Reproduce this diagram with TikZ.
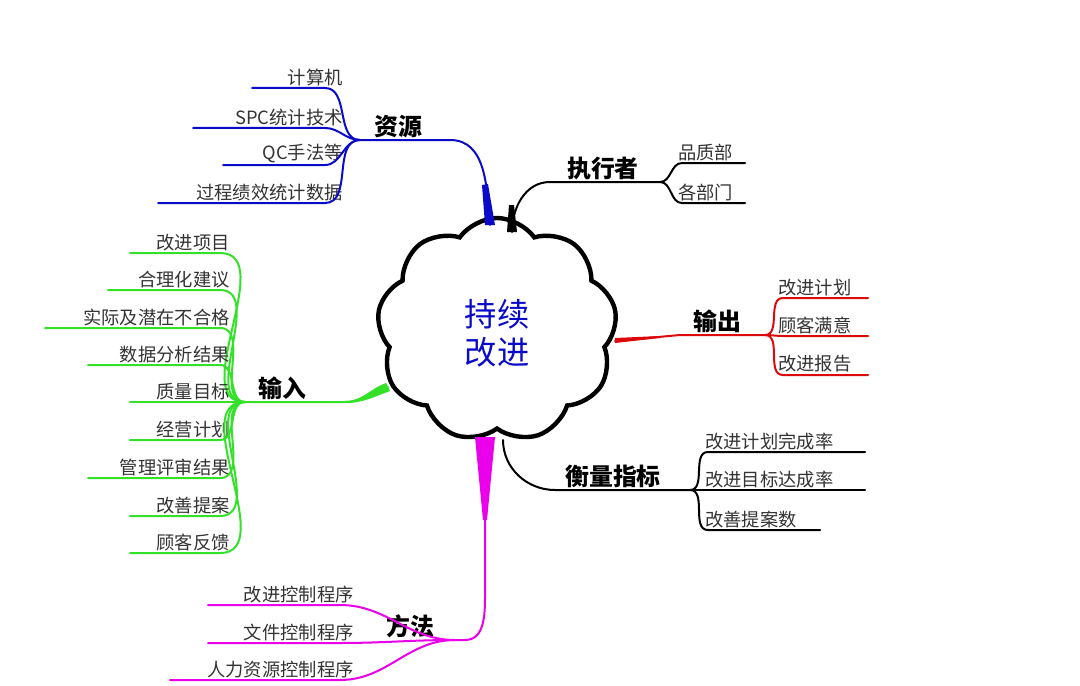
\documentclass[tikz,border=0pt]{standalone}
\usepackage{fontspec}
\setmainfont{Noto Sans CJK SC}
\usetikzlibrary{shapes.symbols}
\definecolor{zyblue}{RGB}{10,10,200}
\definecolor{srgreen}{RGB}{50,225,40}
\definecolor{scred}{RGB}{220,10,10}
\definecolor{ffmag}{RGB}{235,0,235}
\begin{document}
\begin{tikzpicture}[x=0.25mm, y=-0.25mm, line cap=round,
    leaf/.style = {font=\fontsize{13}{13}\selectfont, inner sep=1.5pt, text=black!80},
    topic/.style = {font=\fontsize{17}{17}\selectfont\bfseries, inner sep=1.5pt},
    twig/.style = {line width=0.5mm}]
    \useasboundingbox (0,0) rectangle (1080,686);
    % Disegna il nodo centrale
    \node[cloud, cloud puffs=9, cloud puff arc=110, draw, line width=1.1mm, aspect=1.1,
          minimum width=60mm, minimum height=56mm, inner sep=0pt] (c) at (497,330) {};
    \node[font=\fontsize{23}{27}\selectfont, text=zyblue, align=center] (ct) at (497,333) {持续\\改进};

    % Rami principali
    \coordinate (hzy) at (360,140);
    \coordinate (hzx) at (660,182);
    \coordinate (hsc) at (765,335);
    \coordinate (hhl) at (690,490);
    \coordinate (hsr) at (245,402);
    \coordinate (hff) at (455,640);

    \node[topic, anchor=south] (zy) at (398,140) {资源};
    \node[topic, anchor=south] (zx) at (603,182) {执行者};
    \node[topic, anchor=south] (sc) at (717,335) {输出};
    \node[topic, anchor=south] (hl) at (613,490) {衡量指标};
    \node[topic, anchor=south] (sr) at (282,402) {输入};
    \node[topic, anchor=south] (ff) at (410,640) {方法};

    \draw[zyblue, twig] (hzy) -- (450,140) to[out=0,in=95] (490,225);
    \fill[zyblue] (482,185) -- (488,184) -- (495,225) -- (485,225) -- cycle;
    \draw[twig] (hzx) -- (550,182) to[out=180,in=90] (512,232);
    \fill (509,205) -- (514,205) -- (517,232) -- (507,232) -- cycle;
    \draw[scred, twig] (hsc) -- (680,335) -- (615,341);
    \fill[scred] (660,336) -- (660,338) -- (615,343) -- (615,338) -- cycle;
    \draw[twig] (hhl) -- (555,490) to[out=180,in=-90] (503,440);
    \draw[srgreen, twig] (hsr) -- (345,402) to[out=0,in=200] (388,387);
    \fill[srgreen] (345,401) -- (345,403) to[out=0,in=200] (390,391) -- (386,383) to[out=200,in=0] cycle;
    \draw[ffmag, twig] (hff) -- (465,640) to[out=0,in=-90] (485,590) -- (485,440);
    \fill[ffmag] (475,437) -- (495,437) -- (487,520) -- (483,520) -- cycle;

    % Foglie a sinistra
    \foreach \y/\xs/\t [count=\i] in {88/252/计算机, 128/193/SPC统计技术,
        165/223/QC手法等, 203/158/过程绩效统计数据}
      {\node[leaf, anchor=south east] (zy\i) at (345,\y) {\t};
       \draw[zyblue, twig] (\xs,\y) -- (325,\y) to[out=0,in=180] (hzy);}
    \foreach \y/\xs/\t [count=\i] in {253/130/改进项目, 290/108/合理化建议, 328/45/实际及潜在不合格,
        365/88/数据分析结果, 402/130/质量目标, 440/130/经营计划, 478/88/管理评审结果,
        516/130/改善提案, 553/130/顾客反馈}
      {\node[leaf, anchor=south east] (sr\i) at (232,\y) {\t};
       \draw[srgreen, twig] (\xs,\y) -- (220,\y) to[out=0,in=180] (hsr);}
    \foreach \y/\xs/\t [count=\i] in {605/208/改进控制程序, 643/208/文件控制程序, 680/170/人力资源控制程序}
      {\node[leaf, anchor=south east] (ff\i) at (356,\y) {\t};
       \draw[ffmag, twig] (\xs,\y) -- (340,\y) to[out=0,in=180] (hff);}

    % Foglie a destra
    \foreach \y/\xe/\t [count=\i] in {163/745/品质部, 203/745/各部门}
      {\node[leaf, anchor=south west] (zx\i) at (676,\y) {\t};
       \draw[twig] (hzx) to[out=0,in=180] (682,\y) -- (\xe,\y);}
    \foreach \y/\xe/\t [count=\i] in {298/868/改进计划, 336/868/顾客满意, 375/868/改进报告}
      {\node[leaf, anchor=south west] (sc\i) at (776,\y) {\t};
       \draw[scred, twig] (hsc) to[out=0,in=180] (783,\y) -- (\xe,\y);}
    \foreach \y/\xe/\t [count=\i] in {452/865/改进计划完成率, 490/865/改进目标达成率, 530/820/改善提案数}
      {\node[leaf, anchor=south west] (hl\i) at (703,\y) {\t};
       \draw[twig] (hhl) to[out=0,in=180] (708,\y) -- (\xe,\y);}
\end{tikzpicture}
\end{document}
